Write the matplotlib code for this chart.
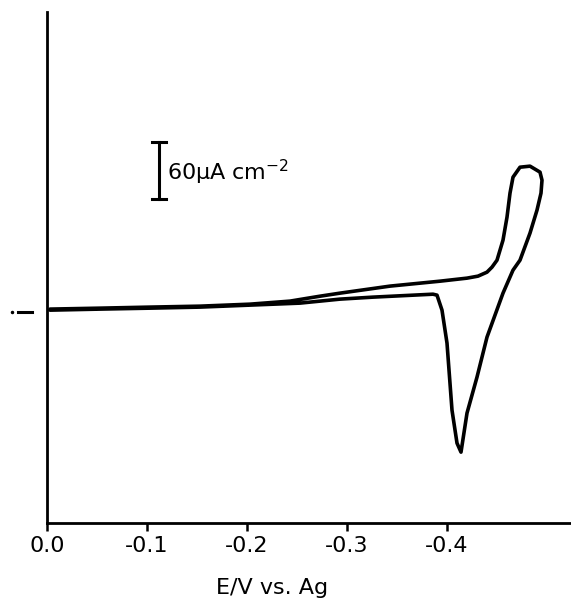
import matplotlib
matplotlib.use("Agg")
import matplotlib.pyplot as plt
import matplotlib.transforms as mtransforms

# cyclic voltammogram, potential in V vs. Ag, current density in uA cm^-2
potential = [-0.003, -0.053, -0.103, -0.153, -0.203, -0.243, -0.273, -0.293,
             -0.343, -0.393, -0.420, -0.431, -0.440, -0.445, -0.450, -0.456,
             -0.460, -0.463, -0.466, -0.473, -0.483, -0.493, -0.495, -0.494,
             -0.490, -0.483, -0.473, -0.466, -0.456, -0.440, -0.430, -0.420,
             -0.414, -0.410, -0.405, -0.400, -0.395, -0.390, -0.386, -0.326,
             -0.293, -0.253, -0.203, -0.153, -0.103, -0.053, -0.003]
current = [3.2, 4.2, 5.3, 6.3, 8.4, 11.6, 16.8, 20.0,
           27.4, 32.6, 35.8, 37.9, 42.1, 47.4, 54.7, 75.8,
           100.0, 125.3, 142.1, 152.6, 153.7, 147.4, 138.9, 125.3,
           107.4, 83.2, 54.7, 44.2, 20.0, -26.3, -68.4, -106.3,
           -147.4, -137.9, -103.2, -32.6, 2.1, 17.9, 18.9, 15.8,
           13.7, 9.5, 7.4, 5.3, 4.2, 3.2, 2.1]

xticks = [0.0, -0.1, -0.2, -0.3, -0.4]
xticklabels = ["0.0", "-0.1", "-0.2", "-0.3", "-0.4"]

# scale bar
bar_x = -0.112
bar_low, bar_high = 119, 179

plt.rcParams['font.family'] = ['DejaVu Sans']

fig = plt.figure(figsize=(5.71, 6.06), dpi=100)
ax = fig.add_axes([47 / 571, 1 - 523 / 606, 524 / 571, 511 / 606])

ax.plot(potential, current, color='black', linewidth=2.6,
        solid_joinstyle='round', solid_capstyle='round')

ax.set_xlim(0, -0.524)
ax.set_ylim(-222, 316)

for side in ['top', 'right']:
    ax.spines[side].set_visible(False)
for side in ['left', 'bottom']:
    ax.spines[side].set_linewidth(2.0)

ax.set_xticks(xticks)
ax.set_xticklabels(xticklabels, fontsize=16)
ax.tick_params(axis='x', direction='out', length=6, width=1.8, pad=3)
ax.set_yticks([])

ax.set_xlabel("E/V vs. Ag", fontsize=16)
ax.xaxis.set_label_coords(0.43, -0.108)

# scale bar with caps
ax.plot([bar_x, bar_x], [bar_low, bar_high], color='black', linewidth=2.2)
for yy in (bar_low, bar_high):
    ax.plot([bar_x + 0.0065, bar_x - 0.0065], [yy, yy], color='black', linewidth=2.2)
ax.text(-0.120, 147, "60\u00b5A cm$^{-2}$", fontsize=16, va='center', ha='left')

# zero-current marker left of the axis
trans = mtransforms.blended_transform_factory(ax.transAxes, ax.transData)
ax.plot([-0.055, -0.029], [0, 0], color='black', linewidth=2.2,
        transform=trans, clip_on=False)
ax.plot([-0.067], [0], marker='.', markersize=3, color='black',
        transform=trans, clip_on=False)

fig.savefig("out.png", dpi=100)
